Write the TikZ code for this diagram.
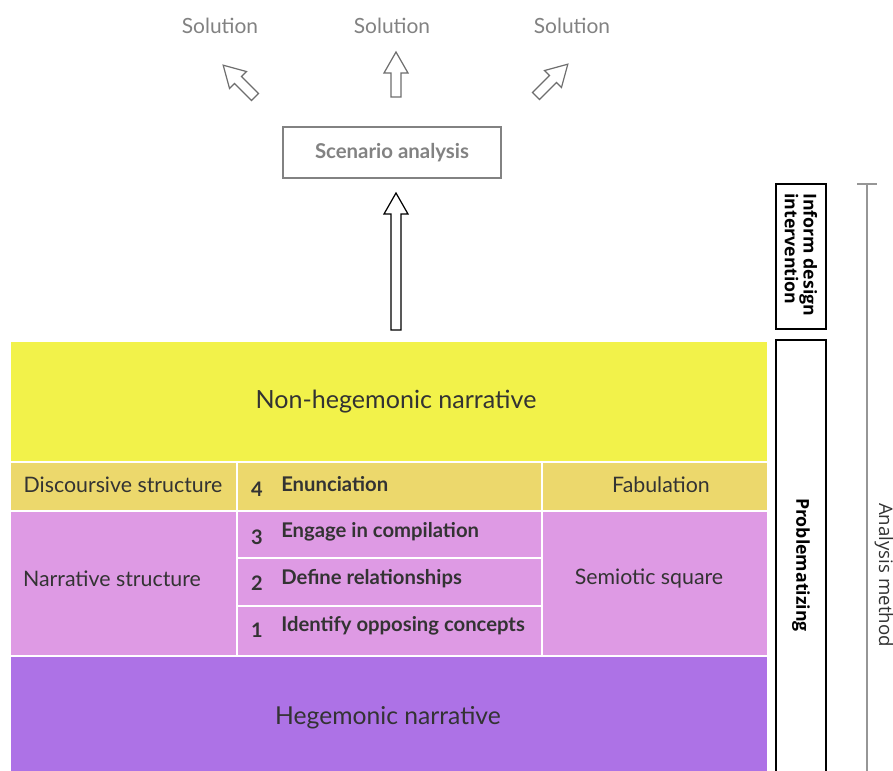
\documentclass[tikz,border=0pt]{standalone}
\usepackage{fontspec}
\setmainfont{Lato}
\newfontfamily\sidefont{Open Sans}
\usetikzlibrary{calc}
\definecolor{cyel}{RGB}{242,242,74}
\definecolor{cdisc}{RGB}{236,216,108}
\definecolor{cpink}{RGB}{222,154,228}
\definecolor{cpurp}{RGB}{173,114,230}
\definecolor{ctext}{RGB}{51,51,51}
\definecolor{cgray}{RGB}{130,130,130}
\definecolor{carrow}{RGB}{110,110,110}
\definecolor{cline}{RGB}{150,150,150}
\newcommand{\hollowarrow}[5]{% style, base x, base y, angle, length
  \begin{scope}[shift={(#2,#3)},rotate=#4]
    \draw[#1] (0,-5) -- (#5-21,-5) -- (#5-21,-12) -- (#5,0) -- (#5-21,12) -- (#5-21,5) -- (0,5) -- cycle;
  \end{scope}}
\begin{document}
\begin{tikzpicture}[x=0.75pt,y=-0.75pt,
  cell/.style={draw=white, line width=1.1pt},
  lbl/.style={text=ctext, font=\fontsize{16}{18}\selectfont, inner sep=0pt},
  steplbl/.style={text=ctext, font=\fontsize{15.2}{17}\selectfont\bfseries, inner sep=0pt, anchor=west},
  numlbl/.style={text=ctext, font=\fontsize{15}{17}\selectfont\bfseries, inner sep=0pt},
  sol/.style={text=cgray, font=\fontsize{15.7}{18}\selectfont, inner sep=0pt},
  arrowline/.style={draw=carrow, line width=0.9pt, fill=white, line join=miter},
  bigarrow/.style={draw=black, line width=0.9pt, fill=white, line join=miter},
  sidebox/.style={draw=black, line width=0.8pt},
  sidelbl/.style={font=\sidefont\fontsize{13.3}{14}\selectfont\bfseries, text=black, rotate=-90, inner sep=0pt}
]
\clip (0,0) rectangle (893,771);
\fill[white] (0,0) rectangle (893,771);

% Solutions
\node[sol] (s1) at (220,26) {Solution};
\node[sol] (s2) at (392,26) {Solution};
\node[sol] (s3) at (572,26) {Solution};
\hollowarrow{arrowline}{255}{97}{135}{45}
\hollowarrow{arrowline}{396}{97}{90}{45}
\hollowarrow{arrowline}{536}{96}{45}{45}

% Scenario analysis
\node[draw=cgray, line width=0.8pt, minimum width=218*0.75pt, minimum height=51*0.75pt, text=cgray,
  font=\fontsize{15.3}{17}\selectfont\bfseries, inner sep=0pt] (scen) at (392,152.5) {Scenario analysis};

% Main stack
\path[cell, fill=cyel] (10,341) rectangle (768,462);
\node[lbl, font=\fontsize{18.8}{21}\selectfont] (nonheg) at (396,402) {Non-hegemonic narrative};

\path[cell, fill=cdisc] (10,462) rectangle (237,511);
\path[cell, fill=cdisc] (237,462) rectangle (542,511);
\path[cell, fill=cdisc] (542,462) rectangle (768,511);
\node[lbl] (disc) at (123,485) {Discoursive structure};
\node[lbl] (fab) at (661,485) {Fabulation};
\node[numlbl] (n4) at (257,489) {4};
\node[steplbl] (t4) at (281,484) {Enunciation};

\path[cell, fill=cpink] (10,511) rectangle (237,656);
\path[cell, fill=cpink] (237,511) rectangle (542,558);
\path[cell, fill=cpink] (237,558) rectangle (542,606);
\path[cell, fill=cpink] (237,606) rectangle (542,656);
\path[cell, fill=cpink] (542,511) rectangle (768,656);
\node[lbl] (narr) at (112,579) {Narrative structure};
\node[lbl] (semi) at (649,579) {Semiotic square};
\node[numlbl] (n3) at (257,537) {3};
\node[steplbl] (t3) at (281,532) {Engage in compilation};
\node[numlbl] (n2) at (257,583) {2};
\node[steplbl] (t2) at (281,579) {Define relationships};
\node[numlbl] (n1) at (257,630) {1};
\node[steplbl] (t1) at (281,626) {Identify opposing concepts};

\path[cell, fill=cpurp] (10,656) rectangle (768,780);
\node[lbl, font=\fontsize{18.5}{21}\selectfont] (heg) at (388,718) {Hegemonic narrative};

% Big hollow arrow from stack to scenario box
\hollowarrow{bigarrow}{396}{330}{90}{137}

% Side boxes
\draw[sidebox] (776,184) rectangle (826,329);
\node[sidelbl, align=left, anchor=west] (inf) at (801,193) {Inform design\\intervention};
\draw[sidebox] (776,340) rectangle (826,790);
\node[sidelbl] (prob) at (801,565) {Problematizing};

% Analysis method bracket
\coordinate (bt) at (867,184);
\coordinate (bb) at (867,790);
\draw[cline, line width=0.8pt] (bt) -- (bb);
\draw[cline, line width=0.8pt] (857,184) -- (877,184);
\node[font=\sidefont\fontsize{14}{16}\selectfont, text=ctext, rotate=-90, inner sep=0pt] (am) at (884,575) {Analysis method};
\end{tikzpicture}
\end{document}
